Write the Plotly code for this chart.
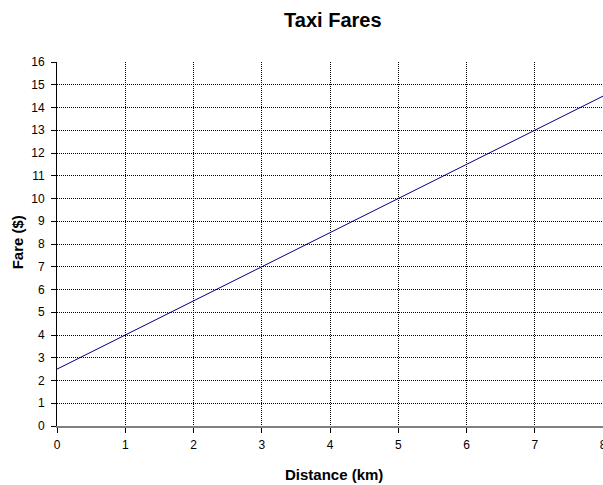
import plotly.graph_objects as go

distance_km = [0, 1, 2, 3, 4, 5, 6, 7, 8]
fare_dollars = [2.5, 4, 5.5, 7, 8.5, 10, 11.5, 13, 14.5]
x_ticks = list(range(0, 9))
y_ticks = list(range(0, 17))

FONT = "Liberation Sans, Arial, sans-serif"

fig = go.Figure()
fig.add_trace(go.Scatter(
    x=distance_km, y=fare_dollars, mode="lines",
    line=dict(color="#000080", width=1),
    showlegend=False, hoverinfo="skip",
))

fig.update_layout(
    width=603, height=485,
    margin=dict(l=57, r=0, t=62, b=59, autoexpand=False),
    paper_bgcolor="white", plot_bgcolor="white",
    font=dict(family=FONT, size=12, color="black"),
    title=dict(text="<b>Taxi Fares</b>", x=0.552, xanchor="center", y=0.958, yanchor="middle",
               font=dict(family=FONT, size=20, color="black")),
    xaxis=dict(
        range=[0, 8], tickvals=x_ticks, ticktext=[str(v) for v in x_ticks],
        showgrid=True, gridcolor="black", griddash="1px,1px", gridwidth=1,
        showline=True, linecolor="#808080", linewidth=2,
        ticks="outside", ticklen=5, tickcolor="black", tickwidth=1,
        ticklabeloverflow="allow", ticklabelstandoff=2, automargin=False,
        zeroline=False, fixedrange=True,
    ),
    yaxis=dict(
        range=[0, 16], tickvals=y_ticks, ticktext=[str(v) for v in y_ticks],
        showgrid=True, gridcolor="black", griddash="1px,1px", gridwidth=1,
        showline=True, linecolor="black", linewidth=1,
        ticks="outside", ticklen=5, tickcolor="black", tickwidth=1,
        ticklabelstandoff=4, automargin=False,
        zeroline=False, fixedrange=True,
    ),
    annotations=[
        dict(text="<b>Distance (km)</b>", xref="paper", yref="paper",
             x=0.507, y=-0.132, xanchor="center", yanchor="middle", showarrow=False,
             font=dict(family=FONT, size=15, color="black")),
        dict(text="<b>Fare ($)</b>", xref="paper", yref="paper",
             x=-0.073, y=0.505, xanchor="center", yanchor="middle", showarrow=False,
             textangle=-90, font=dict(family=FONT, size=15, color="black")),
    ],
)

fig.write_html("out.html")
